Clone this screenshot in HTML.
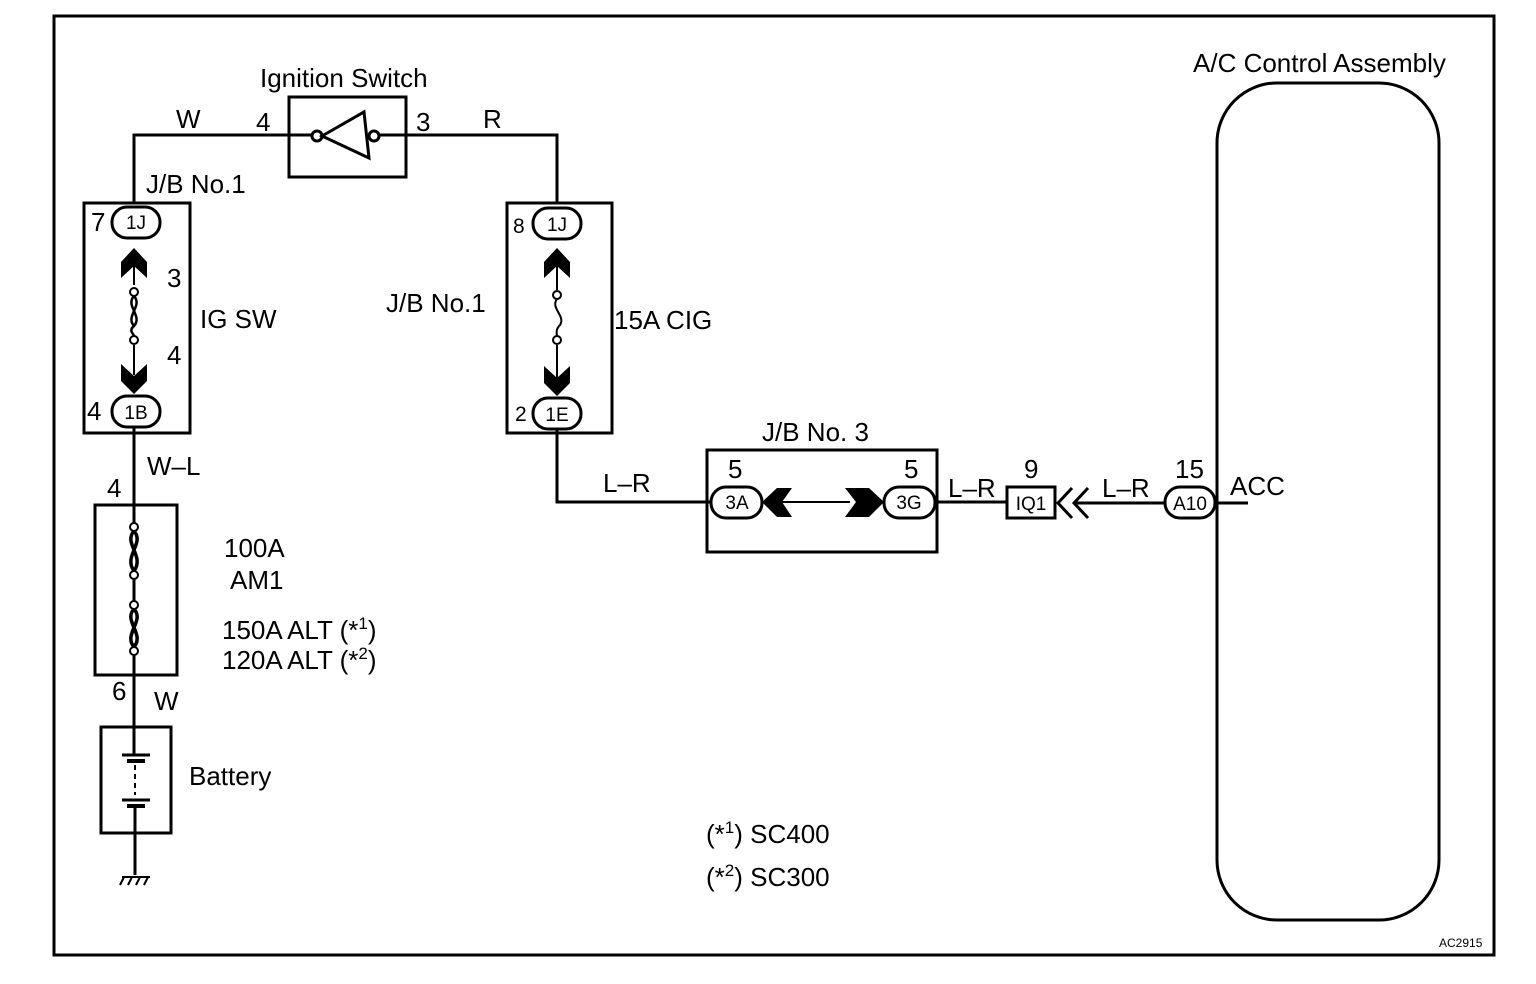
<!DOCTYPE html>
<html><head><style>
html,body{margin:0;padding:0;background:#fff;}
svg{display:block;}
text{font-family:"Liberation Sans",sans-serif;fill:#000;}
</style></head><body>
<svg width="1536" height="984" viewBox="0 0 1536 984">
<g fill="none" stroke="#000" stroke-width="3">
<rect x="54" y="16" width="1440" height="939"/>
<rect x="289" y="97" width="117" height="80"/>
<polyline points="134,203 134,135 317,135"/>
<polyline points="373,135 557,135 557,203"/>
<circle cx="317" cy="136" r="5" fill="#fff"/>
<circle cx="374" cy="136" r="5" fill="#fff"/>
<polygon points="322,136 364,112 369,158" fill="#fff"/>
<rect x="84" y="203" width="106" height="230"/>
<rect x="112" y="207" width="48" height="31" rx="15"/>
<rect x="112" y="396" width="48" height="31" rx="15"/>
<line x1="134" y1="260" x2="134" y2="285" stroke-width="2"/>
<line x1="134" y1="345" x2="134" y2="375" stroke-width="2"/>
<circle cx="134" cy="292" r="4" fill="#fff" stroke-width="2"/>
<circle cx="134" cy="340" r="4" fill="#fff" stroke-width="2"/>
<path d="M134,296 C125,306 143,316 134,326 C128,331 134,334 134,336" stroke-width="2.5"/>
<path d="M134,296 C143,306 125,316 134,326" stroke-width="2.5"/>
<rect x="507" y="203" width="105" height="230"/>
<rect x="533" y="208" width="48" height="31" rx="15"/>
<rect x="533" y="398" width="48" height="31" rx="15"/>
<line x1="557" y1="262" x2="557" y2="290" stroke-width="2"/>
<line x1="557" y1="345" x2="557" y2="378" stroke-width="2"/>
<circle cx="557" cy="295" r="4" fill="#fff" stroke-width="2"/>
<circle cx="557" cy="340" r="4" fill="#fff" stroke-width="2"/>
<path d="M557,299 C550,308 566,316 560,325 C555,330 557,334 557,336" stroke-width="2"/>
<line x1="134" y1="427" x2="134" y2="523"/>
<polyline points="557,429 557,502 712,502"/>
<rect x="95" y="505" width="82" height="170"/>
<circle cx="134" cy="527" r="4" fill="#fff" stroke-width="2"/>
<circle cx="134" cy="575" r="4" fill="#fff" stroke-width="2"/>
<circle cx="134" cy="605" r="4" fill="#fff" stroke-width="2"/>
<circle cx="134" cy="651" r="4" fill="#fff" stroke-width="2"/>
<path d="M134,531 C123,543 145,556 134,571 M134,531 C145,543 123,556 134,571" stroke-width="3.5"/>
<path d="M134,609 C123,621 145,634 134,647 M134,609 C145,621 123,634 134,647" stroke-width="3.5"/>
<line x1="134" y1="579" x2="134" y2="601"/>
<line x1="134" y1="655" x2="134" y2="755"/>
<rect x="101" y="727" width="70" height="106"/>
<line x1="122" y1="755" x2="150" y2="755"/>
<line x1="127" y1="761" x2="145" y2="761" stroke-width="4"/>
<line x1="135" y1="765" x2="135" y2="795" stroke-dasharray="5,4" stroke-width="2"/>
<line x1="122" y1="800" x2="150" y2="800"/>
<line x1="127" y1="806" x2="145" y2="806" stroke-width="4"/>
<line x1="135" y1="806" x2="135" y2="875"/>
<line x1="122" y1="877" x2="150" y2="877" stroke-width="2"/>
<path d="M124,877 l-4,8 M132,877 l-4,8 M140,877 l-4,8 M148,877 l-4,8" stroke-width="2"/>
<rect x="707" y="450" width="230" height="102"/>
<rect x="711" y="487" width="51" height="31" rx="15"/>
<rect x="884" y="487" width="51" height="31" rx="15"/>
<line x1="780" y1="502" x2="850" y2="502" stroke-width="2"/>
<line x1="937" y1="502" x2="1007" y2="502"/>
<rect x="1007" y="487" width="48" height="31"/>
<polyline points="1072,488 1058,503 1072,518"/>
<polyline points="1088,488 1074,503 1088,518"/>
<line x1="1075" y1="503" x2="1166" y2="503"/>
<rect x="1165" y="487" width="50" height="31" rx="15"/>
<line x1="1215" y1="503" x2="1248" y2="503"/>
<rect x="1217" y="83" width="222" height="837" rx="60"/>
</g>
<g fill="#000">
<polygon points="134,248 121,262 121,278 134,266 147,278 147,262"/>
<polygon points="134,394 121,381 121,364 134,376 147,364 147,381"/>
<polygon points="557,248 544,262 544,278 557,266 570,278 570,262"/>
<polygon points="557,396 544,383 544,366 557,378 570,366 570,383"/>
<polygon points="762,502 777,488 792,488 782,502 792,517 777,517"/>
<polygon points="884,502 869,488 845,488 856,502 845,517 869,517"/>
</g>
<g font-size="26">
<text x="260" y="87">Ignition Switch</text>
<text x="176" y="128">W</text>
<text x="256" y="131">4</text>
<text x="416" y="131">3</text>
<text x="483" y="128">R</text>
<text x="146" y="193">J/B No.1</text>
<text x="91" y="231">7</text>
<text x="167" y="287">3</text>
<text x="200" y="328">IG SW</text>
<text x="167" y="364">4</text>
<text x="87" y="420">4</text>
<text x="386" y="312">J/B No.1</text>
<text x="513" y="233" font-size="21">8</text>
<text x="515" y="421" font-size="21">2</text>
<text x="614" y="329">15A CIG</text>
<text x="147" y="475">W–L</text>
<text x="107" y="497">4</text>
<text x="224" y="557">100A</text>
<text x="230" y="589">AM1</text>
<text x="222" y="639">150A ALT (*<tspan font-size="17" dy="-10">1</tspan><tspan dy="10">)</tspan></text>
<text x="222" y="669">120A ALT (*<tspan font-size="17" dy="-10">2</tspan><tspan dy="10">)</tspan></text>
<text x="112" y="700">6</text>
<text x="154" y="710">W</text>
<text x="189" y="785">Battery</text>
<text x="603" y="492">L–R</text>
<text x="762" y="441">J/B No. 3</text>
<text x="728" y="478">5</text>
<text x="904" y="478">5</text>
<text x="948" y="497">L–R</text>
<text x="1024" y="478">9</text>
<text x="1102" y="497">L–R</text>
<text x="1175" y="478">15</text>
<text x="1230" y="495">ACC</text>
<text x="1193" y="72">A/C Control Assembly</text>
<text x="706" y="843">(*<tspan font-size="17" dy="-10">1</tspan><tspan dy="10">) SC400</tspan></text>
<text x="706" y="886">(*<tspan font-size="17" dy="-10">2</tspan><tspan dy="10">) SC300</tspan></text>
</g>
<g font-size="19" text-anchor="middle">
<text x="136" y="229">1J</text>
<text x="136" y="419">1B</text>
<text x="557" y="231">1J</text>
<text x="557" y="421">1E</text>
<text x="737" y="509">3A</text>
<text x="909" y="509">3G</text>
<text x="1031" y="510">IQ1</text>
<text x="1190" y="510">A10</text>
</g>
<text x="1439" y="947" font-size="12">AC2915</text>
</svg>
</body></html>
